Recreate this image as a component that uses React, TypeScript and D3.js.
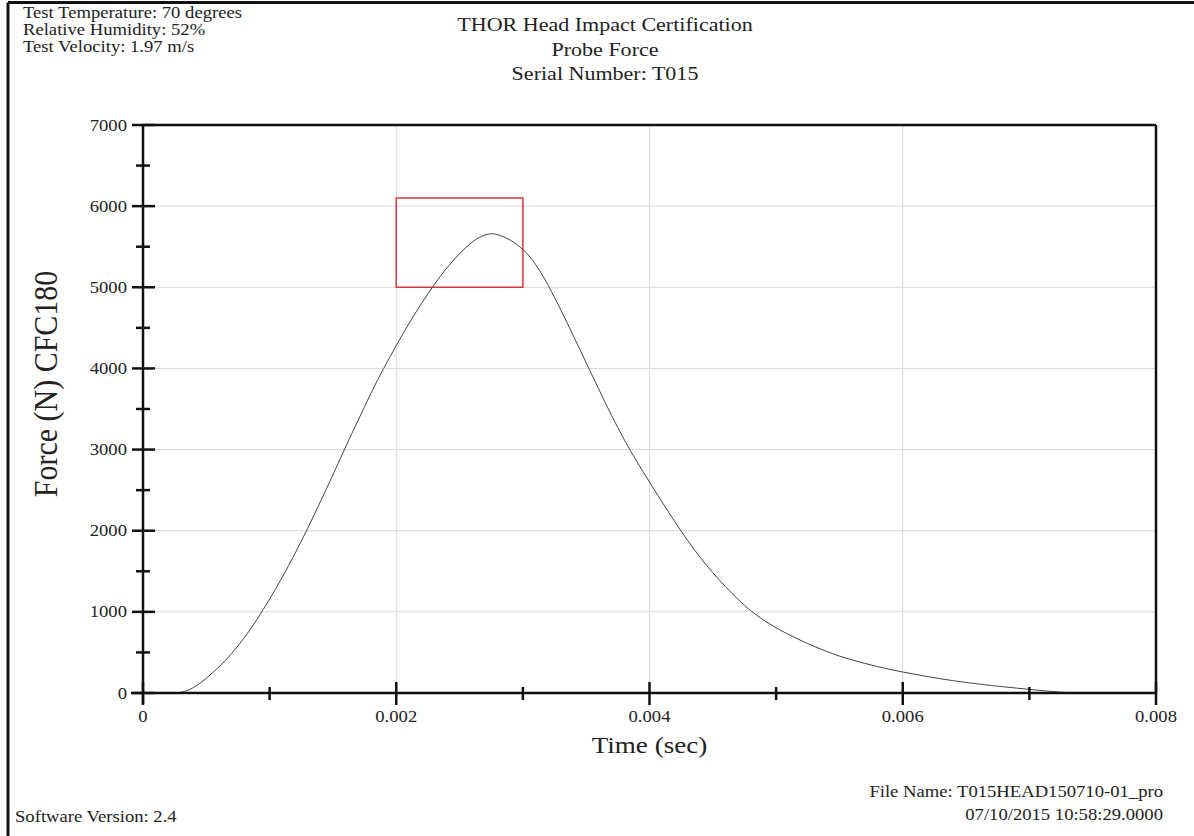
import React from "react";
import * as d3 from "d3";

const timeMs = [0.27, 0.35, 0.45, 0.55, 0.65, 0.75, 0.85, 0.95, 1.05, 1.15, 1.25, 1.35, 1.45, 1.55, 1.65, 1.75, 1.85, 1.95, 2.05, 2.15, 2.25, 2.35, 2.45, 2.55, 2.65, 2.75, 2.85, 2.95, 3.05, 3.15, 3.25, 3.35, 3.45, 3.55, 3.65, 3.75, 3.85, 3.95, 4.05, 4.15, 4.25, 4.35, 4.45, 4.55, 4.65, 4.75, 4.85, 4.95, 5.1, 5.3, 5.5, 5.7, 5.9, 6.1, 6.3, 6.5, 6.7, 6.9, 7.1, 7.25, 7.4];
const forceN = [0, 30, 120, 250, 400, 580, 790, 1030, 1290, 1570, 1870, 2190, 2520, 2860, 3200, 3530, 3850, 4140, 4420, 4680, 4920, 5140, 5330, 5490, 5610, 5660, 5620, 5530, 5385, 5160, 4875, 4560, 4235, 3905, 3580, 3270, 2985, 2725, 2475, 2230, 1995, 1775, 1575, 1395, 1230, 1080, 955, 850, 720, 575, 455, 365, 290, 230, 175, 130, 92, 60, 30, 10, 0];

const xMajorTicks = [0, 0.002, 0.004, 0.006, 0.008];
const xMinorTicks = [0.001, 0.003, 0.005, 0.007];
const xTickLabels = ["0", "0.002", "0.004", "0.006", "0.008"];
const yMajorTicks = [0, 1000, 2000, 3000, 4000, 5000, 6000, 7000];
const yMinorTicks = [500, 1500, 2500, 3500, 4500, 5500, 6500];

const headerLeft = ["Test Temperature: 70 degrees", "Relative Humidity: 52%", "Test Velocity: 1.97 m/s"];
const titleLines = ["THOR Head Impact Certification", "Probe Force", "Serial Number: T015"];
const footerRight = ["File Name: T015HEAD150710-01_pro", "07/10/2015 10:58:29.0000"];
const footerLeft = "Software Version: 2.4";
const highlightBox = { t0: 0.002, t1: 0.003, f0: 5000, f1: 6100 };

const W = 1194;
const H = 836;
const L = 143, R = 1156, T = 125, B = 693;
const font = "'Liberation Serif', 'Times New Roman', serif";
const SX = 1.13;

function T2({ x, y, size, anchor, children }: { x: number; y: number; size: number; anchor?: string; children: React.ReactNode }) {
  return (
    <g transform={`translate(${x},${y}) scale(${SX},1)`}>
      <text x={0} y={0} fontSize={size} textAnchor={anchor || "start"} fill="#222">{children}</text>
    </g>
  );
}

export default function App() {
  const x = d3.scaleLinear().domain([0, 0.008]).range([L, R]);
  const y = d3.scaleLinear().domain([0, 7000]).range([B, T]);
  const data = timeMs.map((t, i) => [t / 1000, forceN[i]] as [number, number]);
  const line = d3
    .line<[number, number]>()
    .x((d) => x(d[0]))
    .y((d) => y(d[1]))
    .curve(d3.curveCatmullRom.alpha(0.5));

  return (
    <svg width={W} height={H} style={{ position: "absolute", left: 0, top: 0, background: "#fff" }} fontFamily={font}>
      <rect x={0} y={0} width={W} height={H} fill="#fff" />
      {/* outer frame */}
      <line x1={8} y1={2.5} x2={W} y2={2.5} stroke="#111" strokeWidth={3} />
      <line x1={8} y1={2.5} x2={8} y2={H} stroke="#111" strokeWidth={3} />

      {/* header text */}
      {headerLeft.map((s, i) => (
        <T2 key={s} x={23} y={18 + i * 17} size={16.5}>{s}</T2>
      ))}
      {titleLines.map((s, i) => (
        <T2 key={s} x={605} y={31 + i * 24.5} size={19.5} anchor="middle">{s}</T2>
      ))}

      {/* gridlines */}
      {xMajorTicks.slice(1, -1).map((v) => (
        <line key={"gx" + v} x1={x(v)} x2={x(v)} y1={T} y2={B} stroke="#d8d8d8" strokeWidth={1} />
      ))}
      {yMajorTicks.slice(1, -1).map((v) => (
        <line key={"gy" + v} x1={L} x2={R} y1={y(v)} y2={y(v)} stroke="#d8d8d8" strokeWidth={1} />
      ))}

      {/* highlight box */}
      <rect
        x={x(highlightBox.t0)}
        y={y(highlightBox.f1)}
        width={x(highlightBox.t1) - x(highlightBox.t0)}
        height={y(highlightBox.f0) - y(highlightBox.f1)}
        fill="none"
        stroke="#d33a3a"
        strokeWidth={1.5}
      />

      {/* curve */}
      <path d={line(data) || ""} fill="none" stroke="#444" strokeWidth={1} />

      {/* axes frame */}
      <line x1={L} x2={R} y1={T} y2={T} stroke="#111" strokeWidth={2.5} />
      <line x1={R} x2={R} y1={T} y2={B} stroke="#111" strokeWidth={2.5} />
      <line x1={L - 12} x2={R} y1={B} y2={B} stroke="#111" strokeWidth={2.5} />
      <line x1={L} x2={L} y1={T} y2={B + 11} stroke="#111" strokeWidth={2.5} />

      {/* x ticks */}
      {xMajorTicks.map((v) => (
        <line key={"xt" + v} x1={x(v)} x2={x(v)} y1={B - 11} y2={B + 12} stroke="#111" strokeWidth={2.5} />
      ))}
      {xMinorTicks.map((v) => (
        <line key={"xm" + v} x1={x(v)} x2={x(v)} y1={B - 6} y2={B + 7} stroke="#111" strokeWidth={2.5} />
      ))}
      {xMajorTicks.map((v, i) => (
        <T2 key={"xl" + v} x={x(v)} y={B + 29} size={16.5} anchor="middle">{xTickLabels[i]}</T2>
      ))}

      {/* y ticks */}
      {yMajorTicks.map((v) => (
        <line key={"yt" + v} x1={L - 11} x2={L + 12} y1={y(v)} y2={y(v)} stroke="#111" strokeWidth={2.5} />
      ))}
      {yMinorTicks.map((v) => (
        <line key={"ym" + v} x1={L - 7} x2={L + 7} y1={y(v)} y2={y(v)} stroke="#111" strokeWidth={2.5} />
      ))}
      {yMajorTicks.map((v) => (
        <T2 key={"yl" + v} x={L - 16} y={y(v) + 5.5} size={16.5} anchor="end">{v}</T2>
      ))}

      {/* axis titles */}
      <T2 x={(L + R) / 2} y={753} size={24} anchor="middle">Time (sec)</T2>
      <text transform={`translate(57, 384) rotate(-90) scale(1,${SX})`} fontSize={30} textAnchor="middle" fill="#222">Force (N) CFC180</text>

      {/* footer */}
      {footerRight.map((s, i) => (
        <T2 key={s} x={1163} y={797 + i * 23} size={16.5} anchor="end">{s}</T2>
      ))}
      <T2 x={15} y={822} size={16.5}>{footerLeft}</T2>
    </svg>
  );
}
